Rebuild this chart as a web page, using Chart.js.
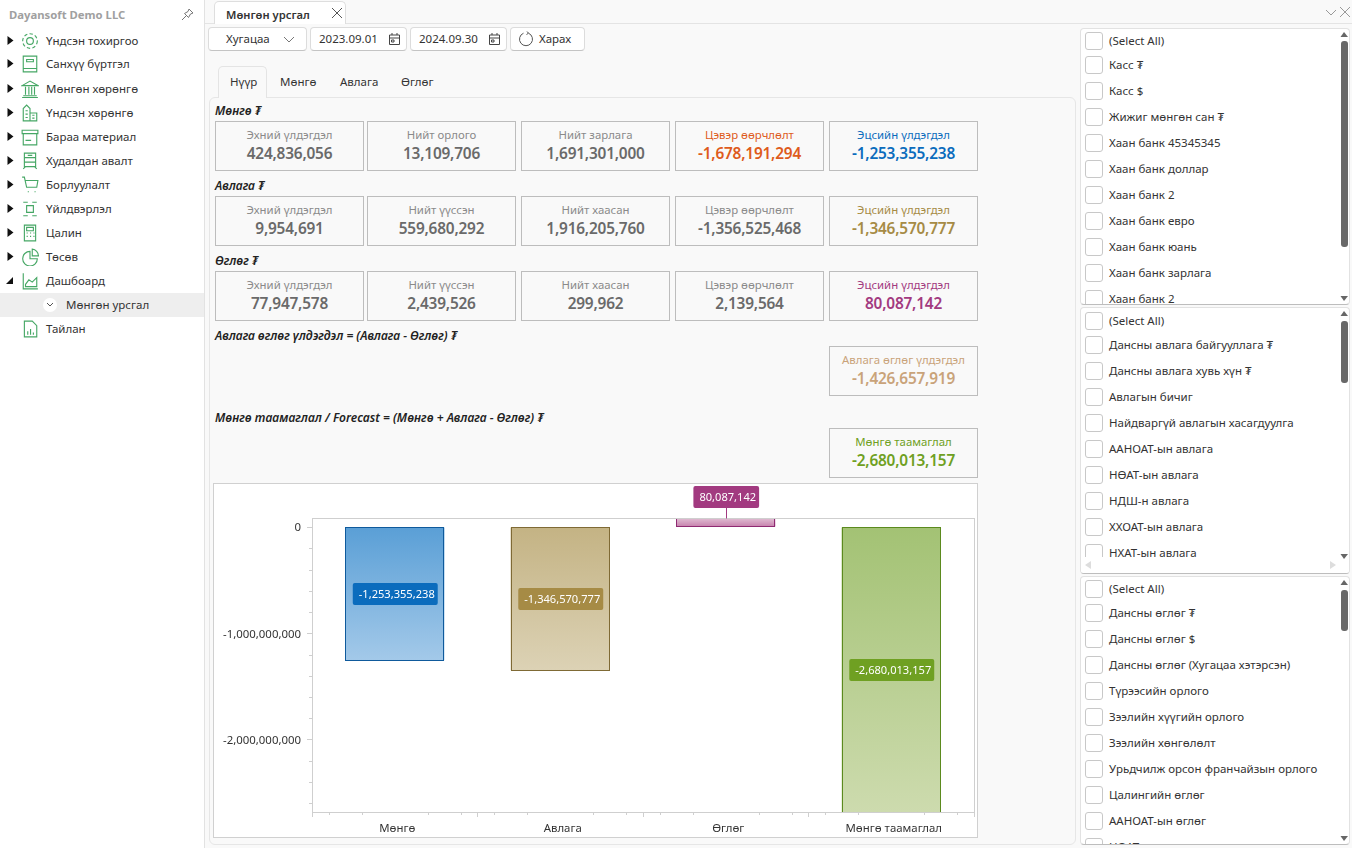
<!DOCTYPE html>
<html>
<head>
<meta charset="utf-8">
<title>Мөнгөн урсгал</title>
<script src="https://cdn.jsdelivr.net/npm/chart.js@4/dist/chart.umd.min.js"></script>
<style>
    html, body { margin: 0; padding: 0; width: 1352px; height: 848px; overflow: hidden; background: #f9f9f9; }
    body { position: relative; font-family: "Noto Sans", sans-serif; font-size: 11.5px; color: #333; }
    .abs { position: absolute; white-space: nowrap; }
    #side { position: absolute; left: 0; top: 0; width: 204px; height: 848px; background: #fff; border-right: 1px solid #e2e2e2; }
    .card { position: absolute; box-sizing: border-box; width: 149px; height: 50px; border: 1px solid #bdbdbd; text-align: center; background: #f9f9f9; }
    .card .t { margin-top: 5px; font-size: 11.4px; line-height: 16px; color: #8a8a8a; }
    .card .v { margin-top: 1px; font-size: 15.4px; line-height: 20px; font-weight: 600; letter-spacing: -0.2px; color: #6a6a6a; }
    .head { position: absolute; left: 215px; font-size: 12px; line-height: 14px; font-weight: 600; font-style: italic; color: #222; white-space: nowrap; }
    .btn { position: absolute; box-sizing: border-box; top: 27px; height: 24px; background: #fff; border: 1px solid #dcdcdc; border-bottom-color: #c4c4c4; border-radius: 4px; line-height: 22px; white-space: nowrap; }
    .box { position: absolute; box-sizing: border-box; left: 1080px; width: 270px; background: #fff; border: 1px solid #e2e2e2; border-bottom-color: #bdbdbd; border-radius: 4px; overflow: hidden; }
    .chk { position: absolute; left: 4px; width: 18px; height: 18px; box-sizing: border-box; border: 1px solid #c8c8c8; border-radius: 3px; background: #fff; }
    .lbl { position: absolute; left: 28px; line-height: 16px; color: #333; white-space: nowrap; }
    .thumb { position: absolute; left: 260px; width: 7px; background: #686868; border-radius: 3px; }
    #chartCard { position: absolute; left: 213px; top: 483px; width: 765px; height: 355px; box-sizing: border-box; background: #fff; outline: 1px solid #d0d0d0; outline-offset: -1px; }
    #chartCard canvas { position: absolute; left: 0; top: 0; }
</style>
</head>
<body>
<div id="side"></div>
<div class="abs" style="left:205px;top:23px;width:1147px;height:1px;background:#e4e4e4"></div>
<div class="abs" style="left:214px;top:1px;width:132px;height:23px;box-sizing:border-box;background:#fff;border:1px solid #dedede;border-bottom:0;border-radius:5px 5px 0 0;padding:5px 0 0 11px;font-weight:600;font-size:11.2px;line-height:16px">Мөнгөн урсгал
    <svg class="abs" style="left:116px;top:5px" width="12" height="12"><path d="M1 1 L11 11 M11 1 L1 11" stroke="#555" fill="none"/></svg></div>
<svg class="abs" style="left:1325px;top:6px" width="26" height="13"><path d="M1 4 L6 9 L11 4 M15 1 L25 11 M25 1 L15 11" stroke="#999" fill="none"/></svg>

<div class="btn" style="left:208px;width:99px;padding-left:17px">Хугацаа
    <svg class="abs" style="left:74px;top:8px" width="12" height="8"><path d="M1 1 L6 6 L11 1" stroke="#777" fill="none"/></svg></div>
<div class="btn" style="left:310px;width:97px;padding-left:8px">2023.09.01
    <svg class="abs" style="left:77px;top:4px" width="13" height="14"><path d="M1.5 3 H11.5 V12.5 H1.5 Z M1.5 6 H11.5 M4 1 V3 M9 1 V3 M3.5 8 H6 V10 H3.5 Z" stroke="#444" fill="none"/></svg></div>
<div class="btn" style="left:410px;width:97px;padding-left:8px">2024.09.30
    <svg class="abs" style="left:77px;top:4px" width="13" height="14"><path d="M1.5 3 H11.5 V12.5 H1.5 Z M1.5 6 H11.5 M4 1 V3 M9 1 V3 M3.5 8 H6 V10 H3.5 Z" stroke="#444" fill="none"/></svg></div>
<div class="btn" style="left:510px;width:75px;padding-left:28px">Харах
    <svg class="abs" style="left:7px;top:3px" width="16" height="16"><path d="M5.5 2.2 A6.5 6.5 0 1 0 10.5 2.2 M9 0.5 L10.5 2.2 L8.5 3.5" stroke="#555" fill="none"/></svg></div>

<div class="abs" style="left:209px;top:97px;width:867px;height:748px;box-sizing:border-box;background:#f9f9f9;border:1px solid #e6e6e6;border-radius:6px"></div>
<div class="abs" style="left:218px;top:66px;width:49px;height:32px;box-sizing:border-box;background:#f9f9f9;border:1px solid #e4e4e4;border-bottom:0;border-radius:5px 5px 0 0"></div>
<div id="tabs"></div>
<div id="cards"></div>
<div id="chartCard"><canvas id="flowChart" width="765" height="355"></canvas></div>
<div id="lists"></div>

<script>
// Chart data
const categories = ['Мөнгө', 'Авлага', 'Өглөг', 'Мөнгө таамаглал'];
const balances = [-1253355238, -1346570777, 80087142, -2680013157];
const axisTicks = [0, -1000000000, -2000000000];
const minorTicks = [-200000000, -400000000, -600000000, -800000000, -1200000000, -1400000000, -1600000000, -1800000000,
    -2200000000, -2400000000, -2600000000];

// Bar styles, same order as categories
const barTopColors = ['#5a9fd6', '#c4b384', '#c67fac', '#a3c274'];
const barEndColors = ['#a3c9e9', '#dcd2b5', '#e0bcd2', '#cddbae'];
const barBorders = ['#0f5a9c', '#7f6a35', '#8f2a72', '#5b8a1e'];
const labelColors = ['#0b6cbd', '#a68b45', '#a23a80', '#6fa022'];

// Summary cards
const cashTitles = ['Эхний үлдэгдэл', 'Нийт орлого', 'Нийт зарлага', 'Цэвэр өөрчлөлт', 'Эцсийн үлдэгдэл'];
const cashValues = ['424,836,056', '13,109,706', '1,691,301,000', '-1,678,191,294', '-1,253,355,238'];
const recvTitles = ['Эхний үлдэгдэл', 'Нийт үүссэн', 'Нийт хаасан', 'Цэвэр өөрчлөлт', 'Эцсийн үлдэгдэл'];
const recvValues = ['9,954,691', '559,680,292', '1,916,205,760', '-1,356,525,468', '-1,346,570,777'];
const payValues = ['77,947,578', '2,439,526', '299,962', '2,139,564', '80,087,142'];

const menuItems = ['Үндсэн тохиргоо', 'Санхүү бүртгэл', 'Мөнгөн хөрөнгө', 'Үндсэн хөрөнгө', 'Бараа материал', 'Худалдан авалт',
    'Борлуулалт', 'Үйлдвэрлэл', 'Цалин', 'Төсөв', 'Дашбоард', 'Мөнгөн урсгал', 'Тайлан'];
const cashList = ['(Select All)', 'Касс ₮', 'Касс $', 'Жижиг мөнгөн сан ₮', 'Хаан банк 45345345', 'Хаан банк доллар', 'Хаан банк 2',
    'Хаан банк евро', 'Хаан банк юань', 'Хаан банк зарлага', 'Хаан банк 2'];
const recvList = ['(Select All)', 'Дансны авлага байгууллага ₮', 'Дансны авлага хувь хүн ₮', 'Авлагын бичиг', 'Найдваргүй авлагын хасагдуулга',
    'ААНОАТ-ын авлага', 'НӨАТ-ын авлага', 'НДШ-н авлага', 'ХХОАТ-ын авлага', 'НХАТ-ын авлага'];
const payList = ['(Select All)', 'Дансны өглөг ₮', 'Дансны өглөг $', 'Дансны өглөг (Хугацаа хэтэрсэн)', 'Түрээсийн орлого', 'Зээлийн хүүгийн орлого',
    'Зээлийн хөнгөлөлт', 'Урьдчилж орсон франчайзын орлого', 'Цалингийн өглөг', 'ААНОАТ-ын өглөг', 'НӨАТ-ын өглөг'];

const money = v => v.toLocaleString('en-US');

// Sidebar
const icons = [
    '<circle cx="8" cy="8" r="3"/><circle cx="8" cy="8" r="6.5" stroke-dasharray="3 2"/>',
    '<path d="M2 1 H14 V15 H2 Z M2 12 H14 M5 4 H11 V6 H5 Z"/>',
    '<path d="M1 5 L8 1 L15 5 Z M2 14 H14 M1 15.5 H15 M4 6 V13 M7 6 V13 M9.5 6 V13 M12 6 V13"/>',
    '<path d="M2 15 V4 L5 1 L8 4 V15 Z M8 8 H14 V15 H8 M4 6 H6 M4 9 H6 M4 12 H6 M10 10 H12 M10 12.5 H12"/>',
    '<path d="M1 2 H15 V5 H1 Z M2 5 V15 H14 V5 M4 11 H9"/>',
    '<path d="M3 1 H13 V13 H3 Z M3 5 H13 M3 9 H13 M6 3 H10 M2 15 L4 13 M14 15 L12 13"/>',
    '<path d="M1 1 H3 L5 10 H14 L15 4 H3.5 M6 14 h1 M12 14 h1"/>',
    '<path d="M5 5 H11 V11 H5 Z M2 2 H6 M10 2 H14 M2 14 H6 M10 14 H14"/>',
    '<path d="M3 1 H13 V15 H3 Z M5 3 H11 V6 H5 Z M5 8 h1 M8 8 h1 M11 8 h1 M5 11 h1 M8 11 h1 M11 11 h1"/>',
    '<path d="M8 3 A6.5 6.5 0 1 0 14.5 9.5 H8 Z M10 1 A6 6 0 0 1 15.5 7 H10 Z"/>',
    '<path d="M2 1 V15 H15 M4 11 L7 7 L10 9 L14 5 V13 H4 Z"/>',
    '',
    '<path d="M3 1 H10 L14 5 V15 H3 Z M6 13 V10 M8.5 13 V8 M11 13 V11"/>'
];
const side = document.getElementById('side');
let sideHtml = '<div class="abs" style="left:9px;top:7px;font-weight:700;font-size:11.3px;line-height:16px;color:#a0a0a0">Dayansoft Demo LLC</div>'
    + '<svg class="abs" style="left:181px;top:8px" width="13" height="13"><path d="M8 1 L12 5 L9.5 6 L7.5 9.5 L3.5 5.5 L7 3.5 Z M5.5 7.5 L1 12" stroke="#777" fill="none"/></svg>';
const menuCenters = [41, 64, 89, 113, 137, 161, 185, 209, 233, 257, 281, 305, 329];
menuItems.forEach((name, i) => {
    const cy = menuCenters[i];
    if (i === 11) {
        sideHtml += `<div class="abs" style="left:0;top:${cy - 12}px;width:204px;height:24px;background:#eeeeee"></div>`
            + `<div class="abs" style="left:43px;top:${cy - 7}px;width:14px;height:14px;border-radius:7px;background:#fff"></div>`
            + `<svg class="abs" style="left:46px;top:${cy - 3}px" width="8" height="6"><path d="M1 1 L4 4 L7 1" stroke="#555" fill="none"/></svg>`
            + `<div class="abs" style="left:66px;top:${cy - 8}px;line-height:16px">${name}</div>`;
        return;
    }
    if (i < 10) sideHtml += `<svg class="abs" style="left:7px;top:${cy - 5}px" width="7" height="9"><path d="M0.5 0 L6.5 4.5 L0.5 9 Z" fill="#111"/></svg>`;
    if (i === 10) sideHtml += `<svg class="abs" style="left:6px;top:${cy - 4}px" width="8" height="8"><path d="M7 0 V7 H0 Z" fill="#111"/></svg>`;
    sideHtml += `<svg class="abs" style="left:21px;top:${cy - 9}px" width="18" height="18" viewBox="0 0 16 16" fill="none" stroke="#46a765" stroke-width="1">${icons[i]}</svg>`
        + `<div class="abs" style="left:46px;top:${cy - 8}px;line-height:16px">${name}</div>`;
});
side.innerHTML = sideHtml;

// Inner tabs
const tabNames = ['Нүүр', 'Мөнгө', 'Авлага', 'Өглөг'];
const tabLefts = [230, 280, 340, 401];
document.getElementById('tabs').innerHTML = tabNames.map((n, i) =>
    `<div class="abs" style="left:${tabLefts[i]}px;top:74px;line-height:16px">${n}</div>`).join('');

// Cards
const cardLefts = [215, 367, 521, 675, 829];
let cardHtml = '';
const addHead = (text, y) => { cardHtml += `<div class="head" style="top:${y - 8}px">${text}</div>`; };
const addCard = (x, y, title, value, color) => {
    const c = color ? `color:${color}` : '';
    cardHtml += `<div class="card" style="left:${x}px;top:${y}px"><div class="t" style="${c}">${title}</div><div class="v" style="${c}">${value}</div></div>`;
};
const addRow = (y, titles, values, colors) => titles.forEach((t, i) => addCard(cardLefts[i], y, t, values[i], colors[i]));
addHead('Мөнгө ₮', 112);
addRow(121, cashTitles, cashValues, [null, null, null, '#de5b1c', '#0b6cbd']);
addHead('Авлага ₮', 187);
addRow(196, recvTitles, recvValues, [null, null, null, null, '#a68b45']);
addHead('Өглөг ₮', 262);
addRow(271, recvTitles, payValues, [null, null, null, null, '#a23a80']);
addHead('Авлага өглөг үлдэгдэл = (Авлага - Өглөг) ₮', 337);
addCard(829, 346, 'Авлага өглөг үлдэгдэл', '-1,426,657,919', '#c9a37a');
addHead('Мөнгө таамаглал / Forecast = (Мөнгө + Авлага - Өглөг) ₮', 419);
addCard(829, 428, 'Мөнгө таамаглал', '-2,680,013,157', '#6fa022');
document.getElementById('cards').innerHTML = cardHtml;

// Right hand filter lists
const makeList = (names, top, height, centers, thumbTop, thumbHeight, hasBottomBar) => {
    let h = `<div class="box" style="top:${top}px;height:${height}px">`;
    names.forEach((n, i) => {
        const cy = centers[i] - top - 1;
        h += `<div class="chk" style="top:${cy - 9}px"></div><div class="lbl" style="top:${cy - 8}px">${n}</div>`;
    });
    if (hasBottomBar) {
        h += `<div class="abs" style="left:0;top:${height - 18}px;width:268px;height:16px;background:#fff"></div>`
            + `<svg class="abs" style="left:4px;top:${height - 14}px" width="6" height="8"><path d="M6 0 V8 L0 4 Z" fill="#ddd"/></svg>`
            + `<svg class="abs" style="left:249px;top:${height - 14}px" width="6" height="8"><path d="M0 0 V8 L6 4 Z" fill="#ddd"/></svg>`;
    }
    h += `<div class="thumb" style="top:${thumbTop - top - 1}px;height:${thumbHeight}px"></div>`;
    h += `<svg class="abs" style="left:259px;top:2px" width="9" height="7"><path d="M0.5 6 L4 1 L8 6 Z" fill="#666"/></svg>`;
    h += `<svg class="abs" style="left:259px;top:${hasBottomBar ? height - 22 : height - 11}px" width="9" height="7"><path d="M0.5 1 L8 1 L4 6 Z" fill="#666"/></svg>`;
    return h + '</div>';
};
document.getElementById('lists').innerHTML =
    makeList(cashList, 28, 277, [41, 65, 91, 117, 143, 169, 195, 221, 247, 273, 299], 41, 206, false)
    + makeList(recvList, 307, 267, [321, 345, 371, 397, 423, 449, 475, 501, 527, 553], 321, 62, true)
    + makeList(payList, 576, 269, [589, 613, 639, 665, 691, 717, 743, 769, 795, 821, 847], 590, 41, false);

// Gradient per bar, saturated at the zero line and lighter at the far end
function barGradient(context) {
    const chart = context.chart;
    const i = context.dataIndex;
    if (!chart.chartArea || !chart.scales.y) return barTopColors[i];
    const yScale = chart.scales.y;
    const g = chart.ctx.createLinearGradient(0, yScale.getPixelForValue(0), 0, yScale.getPixelForValue(balances[i]));
    g.addColorStop(0, barTopColors[i]);
    g.addColorStop(1, barEndColors[i]);
    return g;
}

// Minor ticks on both axes and the plot frame
const plotFrame = {
    id: 'plotFrame',
    afterDatasetsDraw(chart) {
        const { ctx, chartArea: a, scales } = chart;
        ctx.save();
        ctx.strokeStyle = '#cfcfcf';
        ctx.lineWidth = 1;
        ctx.strokeRect(Math.floor(a.left) + 0.5, Math.floor(a.top) + 0.5, Math.floor(a.right) - Math.floor(a.left), Math.floor(a.bottom) - Math.floor(a.top));
        ctx.beginPath();
        minorTicks.forEach(v => {
            const y = Math.round(scales.y.getPixelForValue(v)) + 0.5;
            ctx.moveTo(a.left - 3, y);
            ctx.lineTo(a.left, y);
        });
        const step = scales.x.width / categories.length / 5;
        const first = scales.x.getPixelForTick(0) - 2 * step;
        for (let k = 0; k < categories.length * 5; k++) {
            if (k % 5 === 2) continue;
            const x = Math.round(first + k * step) + 0.5;
            ctx.moveTo(x, a.bottom);
            ctx.lineTo(x, a.bottom + 3);
        }
        ctx.stroke();
        ctx.restore();
    }
};

// Crisp outline on each bar, cut off at the plot edge
const barOutlines = {
    id: 'barOutlines',
    afterDatasetsDraw(chart) {
        const { ctx, chartArea: a } = chart;
        ctx.save();
        ctx.beginPath();
        ctx.rect(a.left, Math.floor(a.top) + 1, a.width, Math.floor(a.bottom) - Math.floor(a.top) - 1);
        ctx.clip();
        chart.getDatasetMeta(0).data.forEach((bar, i) => {
            const left = Math.round(bar.x - bar.width / 2) + 0.5;
            const right = Math.round(bar.x + bar.width / 2) - 0.5;
            const top = Math.floor(Math.min(bar.y, bar.base)) + 0.5;
            const bottom = Math.floor(Math.max(bar.y, bar.base)) + 0.5;
            ctx.strokeStyle = barBorders[i];
            ctx.strokeRect(left, top, right - left, bottom - top);
        });
        ctx.restore();
    }
};

// Value badge on each bar, positive values get it above the plot with a leader line
const valueBadges = {
    id: 'valueBadges',
    afterDatasetsDraw(chart) {
        const { ctx, chartArea: a } = chart;
        const bars = chart.getDatasetMeta(0).data;
        ctx.save();
        ctx.font = '11.1px "Noto Sans", sans-serif';
        ctx.textBaseline = 'middle';
        ctx.textAlign = 'center';
        bars.forEach((bar, i) => {
            const text = money(balances[i]);
            const w = ctx.measureText(text).width + 9;
            const h = 22;
            let cy;
            if (balances[i] < 0) {
                cy = (Math.min(bar.y, a.bottom) + bar.base) / 2;
            } else {
                cy = a.top - 22;
                ctx.strokeStyle = labelColors[i];
                ctx.beginPath();
                ctx.moveTo(Math.round(bar.x) + 0.5, cy + h / 2);
                ctx.lineTo(Math.round(bar.x) + 0.5, a.top);
                ctx.stroke();
            }
            ctx.fillStyle = labelColors[i];
            ctx.beginPath();
            ctx.roundRect(bar.x - w / 2 + 0.5, Math.round(cy - h / 2), w, h, 2);
            ctx.fill();
            ctx.fillStyle = '#fff';
            ctx.fillText(text, bar.x + 2, Math.round(cy) + 0.5);
        });
        ctx.restore();
    }
};

new Chart(document.getElementById('flowChart').getContext('2d'), {
    type: 'bar',
    data: {
        labels: categories,
        datasets: [{
            data: balances,
            backgroundColor: barGradient,
            borderWidth: 0,
            barPercentage: 0.6,
            categoryPercentage: 1
        }]
    },
    options: {
        responsive: false,
        animation: false,
        layout: { padding: { top: 35.5, right: 4, left: 0, bottom: 0 } },
        plugins: { legend: { display: false }, tooltip: { enabled: false } },
        scales: {
            x: {
                afterFit: scale => { scale.height = 26; },
                grid: { drawOnChartArea: false, tickLength: 5, tickColor: '#cfcfcf' },
                border: { color: '#cfcfcf' },
                ticks: { color: '#333', padding: 5, labelOffset: 2.5, maxRotation: 0, font: { family: '"Noto Sans", sans-serif', size: 11.4 } }
            },
            y: {
                min: balances[3],
                max: balances[2],
                afterFit: scale => { scale.width = 99; },
                afterBuildTicks: scale => { scale.ticks = axisTicks.map(value => ({ value })); },
                grid: { drawOnChartArea: false, tickLength: 5, tickColor: '#cfcfcf' },
                border: { color: '#cfcfcf' },
                ticks: {
                    autoSkip: false,
                    color: '#333',
                    padding: 6,
                    labelOffset: 1,
                    font: { family: '"Noto Sans", sans-serif', size: 11.4 },
                    callback: v => money(v)
                }
            }
        }
    },
    plugins: [plotFrame, barOutlines, valueBadges]
});
</script>
</body>
</html>
